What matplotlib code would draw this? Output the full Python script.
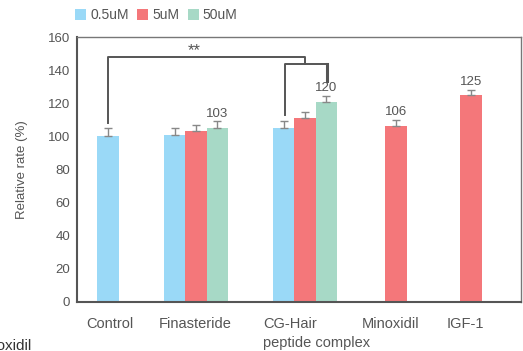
import matplotlib.pyplot as plt
import numpy as np

plt.rcParams['font.family'] = ['Liberation Sans', 'DejaVu Sans']

groups = ['Control', 'Finasteride', 'CG-Hair\npeptide complex', 'Minoxidil', 'IGF-1']
doses = ['0.5uM', '5uM', '50uM']
colors = ['#9ad9f7', '#f4777a', '#a7d9c6']

# values per dose (nan = no bar)
vals_05 = [100, 101, 105, np.nan, np.nan]
vals_5 = [np.nan, 103, 111, 106, 125]
vals_50 = [np.nan, 105, 121, np.nan, np.nan]
err_05 = [5, 4, 4, np.nan, np.nan]
err_5 = [np.nan, 4, 4, 4, 3]
err_50 = [np.nan, 4, 3.5, np.nan, np.nan]
bar_labels = {(1, 2): '103', (2, 2): '120', (3, 1): '106', (4, 1): '125'}

# layout (axis units = pixels from left spine)
centers = np.array([31, 119, 228, 319, 394])
offsets = {0: [0, -21.3, -21.3, 0, 0], 1: [0, 0, 0, 0, 0], 2: [0, 21.3, 21.3, 0, 0]}
w = 21.5
label_x = [33, 118, 186, 314, 388]

fig = plt.figure(figsize=(5.23, 3.51), dpi=100)
ax = fig.add_axes([77 / 523, 1 - 302 / 351, 444 / 523, 265 / 351])

txt = '#555555'
for k, (v, e) in enumerate(zip([vals_05, vals_5, vals_50], [err_05, err_5, err_50])):
    x = centers + np.array(offsets[k])
    ax.bar(x, v, width=w, color=colors[k], label=doses[k], zorder=2)
    ax.errorbar(x, v, yerr=[np.zeros(5), e], fmt='none', ecolor='#888888',
                elinewidth=1, capsize=3, capthick=1, zorder=3)
    for i in range(5):
        if (i, k) in bar_labels:
            ax.text(x[i], v[i] + e[i] + 1, bar_labels[(i, k)], ha='center', va='bottom',
                    fontsize=9.5, color=txt)

# significance bracket
bc = '#555555'
cg = centers[2]
ax.plot([centers[0], centers[0], cg, cg], [108, 148, 148, 144], color=bc, lw=1.4, zorder=4)
ax.plot([cg - 20, cg - 20, cg + 21.5, cg + 21.5], [113, 144, 144, 133.5], color=bc, lw=1.4, zorder=4)
ax.plot([cg + 21.5, cg + 21.5], [144, 133.5], color=bc, lw=2.2, zorder=4)
ax.text(117, 147.5, '**', ha='center', va='bottom', fontsize=12, color=txt)

ax.set_xlim(0, 444)
ax.set_ylim(0, 160)
ax.set_yticks(np.arange(0, 161, 20))
ax.tick_params(length=0, labelsize=9.5, labelcolor=txt, pad=5)
ax.set_xticks([])
for i, g in enumerate(groups):
    if '\n' in g:
        first, second = g.split('\n')
        ax.text(label_x[i], -9, first, ha='left', va='top', fontsize=10.5, color=txt)
        ax.text(label_x[i], -20.5, second, ha='left', va='top', fontsize=10.5, color=txt)
    else:
        ax.text(label_x[i], -9, g, ha='center', va='top', fontsize=10.5, color=txt)

for s in ax.spines.values():
    s.set_color('#777777')
    s.set_linewidth(1.0)
ax.spines['left'].set_color('#555555')
ax.spines['left'].set_linewidth(1.5)
ax.spines['bottom'].set_color('#555555')
ax.spines['bottom'].set_linewidth(1.5)

ax.set_ylabel('Relative rate (%)', fontsize=9.5, color=txt, labelpad=14)

leg = ax.legend(loc='lower left', bbox_to_anchor=(-0.005, 1.055), ncol=3, frameon=False,
                fontsize=10, handlelength=0.8, handleheight=0.8, handletextpad=0.3,
                columnspacing=0.6, borderaxespad=0, borderpad=0)
for t in leg.get_texts():
    t.set_color(txt)

# cropped text from neighbouring figure
fig.text(-0.052, 0.004, 'Minoxidil', fontsize=11, color='#333333', ha='left', va='baseline')

fig.savefig('out.png', dpi=100)
